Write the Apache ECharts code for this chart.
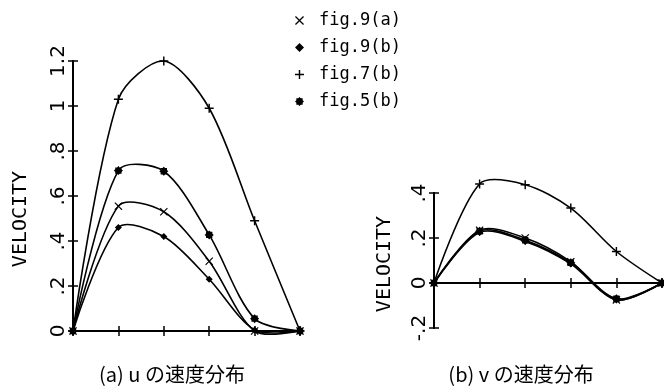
<!DOCTYPE html>
<html>
<head>
<meta charset="utf-8">
<script src="https://cdn.jsdelivr.net/npm/echarts@6/dist/echarts.min.js"></script>
<style>
  html, body { margin: 0; padding: 0; background: #fff; }
  #chart { width: 664px; height: 388px; }
</style>
</head>
<body>
<div id="chart"></div>
<script>
// station index along the section
const xs = [0, 1, 2, 3, 4, 5]
const names = ['fig.9(a)', 'fig.9(b)', 'fig.7(b)', 'fig.5(b)']

// (a) u velocity
const u9a = [0, 0.555, 0.53, 0.31, 0.0, 0]
const u9b = [0, 0.46, 0.42, 0.23, 0.005, 0]
const u7b = [0, 1.03, 1.2, 0.99, 0.49, 0]
const u5b = [0, 0.713, 0.71, 0.427, 0.055, 0]

// (b) v velocity
const v9a = [0, 0.235, 0.2, 0.095, -0.075, 0]
const v9b = [0, 0.225, 0.185, 0.085, -0.075, 0]
const v7b = [0, 0.44, 0.437, 0.333, 0.14, 0]
const v5b = [0, 0.23, 0.19, 0.09, -0.07, 0]

const uTicks = { min: 0, max: 1.2, interval: 0.2 }
const vTicks = { min: -0.2, max: 0.4, interval: 0.2 }

const symbols = {
  'fig.9(a)': 'path://M1,0L5,4L9,0L10,1L6,5L10,9L9,10L5,6L1,10L0,9L4,5L0,1Z',
  'fig.9(b)': 'diamond',
  'fig.7(b)': 'path://M4.2,0H5.8V4.2H10V5.8H5.8V10H4.2V5.8H0V4.2H4.2Z',
  'fig.5(b)': 'path://M10,5L8.51,6.46L8.54,8.54L6.46,8.51L5,10L3.54,8.51L1.46,8.54L1.49,6.46L0,5L1.49,3.54L1.46,1.46L3.54,1.49L5,0L6.46,1.49L8.54,1.46L8.51,3.54Z',
}
const symbolSizes = { 'fig.9(a)': 8, 'fig.9(b)': 7, 'fig.7(b)': 9, 'fig.5(b)': 9 }
const SMOOTH = 0.3

const tickFmt = v => String(parseFloat(v.toFixed(2))).replace(/^(-?)0\./, '$1.')

// main axes carry outer ticks, overlay grids add the inner half of each tick
function xAxis(gridIndex, overlay) {
  return {
    gridIndex,
    type: 'value',
    min: 0,
    max: 5,
    interval: 1,
    axisLabel: { show: false },
    splitLine: { show: false },
    axisLine: { show: true, onZero: true, lineStyle: { color: '#000', width: 2 } },
    axisTick: { show: true, inside: overlay, length: 5, lineStyle: { color: '#000', width: 1.5 } },
  }
}

function yAxis(gridIndex, t, overlay) {
  return {
    gridIndex,
    type: 'value',
    position: 'left',
    min: t.min,
    max: t.max,
    interval: t.interval,
    splitLine: { show: false },
    axisLine: { show: true, onZero: overlay, lineStyle: { color: '#000', width: 2 } },
    axisTick: { show: true, inside: overlay, length: 5, lineStyle: { color: '#000', width: 1.5 } },
    axisLabel: overlay
      ? { show: false }
      : { color: '#000', fontSize: 20, fontFamily: 'DejaVu Sans', rotate: 90, margin: 4, formatter: tickFmt },
  }
}

// curve through the points, control points from neighbours in pixel space
function curveSeries(values, axisIndex) {
  return {
    type: 'custom',
    xAxisIndex: axisIndex,
    yAxisIndex: axisIndex,
    silent: true,
    clip: false,
    encode: { x: 0, y: 1 },
    data: xs.map((x, i) => [x, values[i]]),
    renderItem: (params, api) => {
      if (params.dataIndex !== 0) return null
      const p = xs.map((x, i) => api.coord([x, values[i]]))
      const n = p.length
      const cpIn = []
      const cpOut = []
      for (let i = 0; i < n; i++) {
        if (i === 0 || i === n - 1) {
          cpIn[i] = p[i]
          cpOut[i] = p[i]
          continue
        }
        const vx = (p[i + 1][0] - p[i - 1][0]) * SMOOTH
        const vy = (p[i + 1][1] - p[i - 1][1]) * SMOOTH
        const d0 = Math.hypot(p[i][0] - p[i - 1][0], p[i][1] - p[i - 1][1])
        const d1 = Math.hypot(p[i + 1][0] - p[i][0], p[i + 1][1] - p[i][1])
        const r0 = d0 / (d0 + d1)
        const r1 = d1 / (d0 + d1)
        cpIn[i] = [p[i][0] - vx * r0, p[i][1] - vy * r0]
        cpOut[i] = [p[i][0] + vx * r1, p[i][1] + vy * r1]
      }
      const children = []
      for (let i = 0; i < n - 1; i++) {
        children.push({
          type: 'bezierCurve',
          shape: {
            x1: p[i][0], y1: p[i][1],
            cpx1: cpOut[i][0], cpy1: cpOut[i][1],
            cpx2: cpIn[i + 1][0], cpy2: cpIn[i + 1][1],
            x2: p[i + 1][0], y2: p[i + 1][1],
          },
          style: { stroke: '#000', fill: null, lineWidth: 1.6 },
        })
      }
      return { type: 'group', children }
    },
  }
}

function markSeries(name, values, axisIndex) {
  const s = {
    name,
    type: 'scatter',
    xAxisIndex: axisIndex,
    yAxisIndex: axisIndex,
    symbol: symbols[name],
    symbolSize: symbolSizes[name],
    clip: false,
    z: 3,
    itemStyle: { color: '#000', opacity: 1 },
    data: xs.map((x, i) => [x, values[i]]),
  }
  // vertical axis line drawn again at x = 0 so it is always visible
  if (name === names[0]) {
    s.markLine = {
      silent: true,
      symbol: 'none',
      label: { show: false },
      lineStyle: { color: '#000', width: 2, type: 'solid' },
      data: [{ xAxis: 0 }],
    }
  }
  return s
}

const uSets = [u9a, u9b, u7b, u5b]
const vSets = [v9a, v9b, v7b, v5b]
const series = []
uSets.forEach((vals, k) => series.push(curveSeries(vals, 0), markSeries(names[k], vals, 0)))
vSets.forEach((vals, k) => series.push(curveSeries(vals, 1), markSeries(names[k], vals, 1)))

const textStyle = (size, family) => ({ fontSize: size, fontFamily: family, fill: '#000', align: 'center', verticalAlign: 'middle' })

const chart = echarts.init(document.getElementById('chart'))
const option = {
  animation: false,
  backgroundColor: '#fff',
  legend: {
    orient: 'vertical',
    left: 290,
    top: 7,
    itemWidth: 9,
    itemHeight: 9,
    itemGap: 10,
    data: names.map(n => ({ name: n, icon: symbols[n] })),
    textStyle: { color: '#000', fontSize: 17, fontFamily: 'DejaVu Sans Mono', padding: [0, 0, 0, 10] },
  },
  grid: [
    { left: 73, top: 61, width: 227, height: 270 },
    { left: 434, top: 193, width: 228, height: 135 },
    { left: 73, top: 61, width: 227, height: 270 },
    { left: 434, top: 193, width: 228, height: 135 },
  ],
  xAxis: [xAxis(0, false), xAxis(1, false), xAxis(2, true), xAxis(3, true)],
  yAxis: [yAxis(0, uTicks, false), yAxis(1, vTicks, false), yAxis(2, uTicks, true), yAxis(3, vTicks, true)],
  graphic: [
    { type: 'text', x: 21, y: 219, rotation: Math.PI / 2, style: { text: 'VELOCITY', ...textStyle(20, 'DejaVu Sans Mono') } },
    { type: 'text', x: 385, y: 264, rotation: Math.PI / 2, style: { text: 'VELOCITY', ...textStyle(20, 'DejaVu Sans Mono') } },
    { type: 'text', x: 172, y: 374, style: { text: '(a) u の速度分布', ...textStyle(20, 'Noto Sans CJK JP') } },
    { type: 'text', x: 521, y: 374, style: { text: '(b) v の速度分布', ...textStyle(20, 'Noto Sans CJK JP') } },
  ],
  series,
}
chart.setOption(option)
window.addEventListener('resize', () => chart.resize())
</script>
</body>
</html>
